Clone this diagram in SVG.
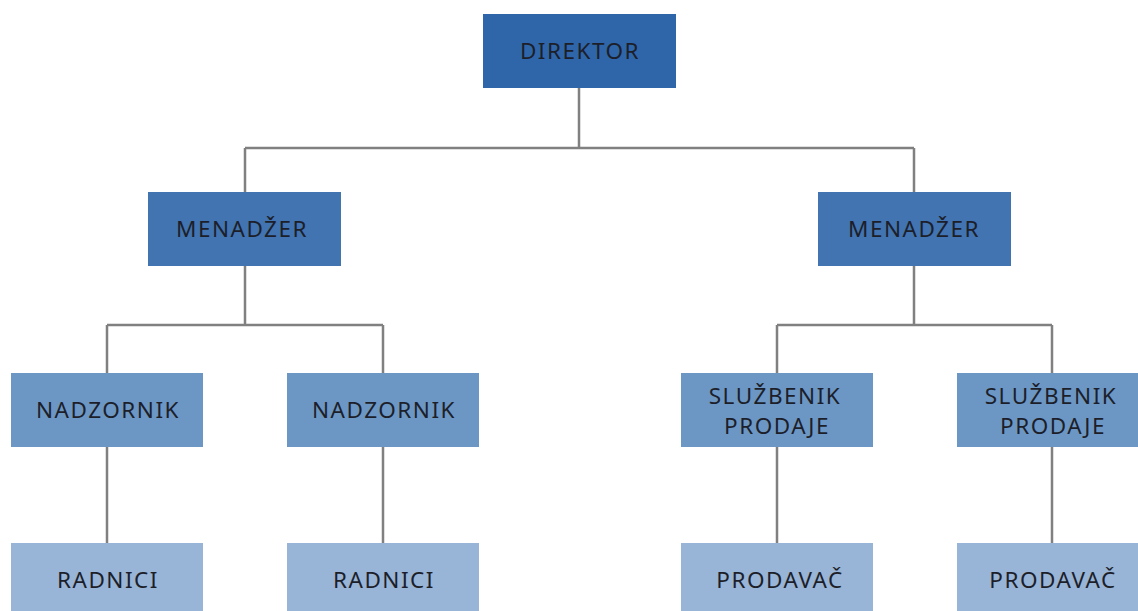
<svg xmlns="http://www.w3.org/2000/svg" width="1138" height="611" viewBox="0 0 1138 611">
<style>
.t{font-family:"Noto Sans","Open Sans",sans-serif;font-size:22.5px;fill:#1c1f2a;text-anchor:middle;letter-spacing:1.5px}
.l0{fill:#2f66a9}
.l1{fill:#4174b1}
.l2{fill:#6c97c5}
.l3{fill:#98b4d6}
.c{stroke:#808080;stroke-width:2.5;fill:none}
</style>
<rect width="1138" height="611" fill="#ffffff"/>
<g id="connectors">
<path class="c" d="M579 88V148M245 148H914M245 148V192M914 148V192"/>
<path class="c" d="M245 266V325M107 325H383M107 325V373M383 325V373"/>
<path class="c" d="M914 266V325M777 325H1052M777 325V373M1052 325V373"/>
<path class="c" d="M107 447V543M383 447V543M777 447V543M1052 447V543"/>
</g>
<g id="direktor"><rect class="l0" x="483" y="14" width="193" height="74"/><text class="t" x="580" y="59">DIREKTOR</text></g>
<g id="menadzer1"><rect class="l1" x="148" y="192" width="193" height="74"/><text class="t" x="242" y="237">MENADŽER</text></g>
<g id="menadzer2"><rect class="l1" x="818" y="192" width="193" height="74"/><text class="t" x="914" y="237">MENADŽER</text></g>
<g id="nadzornik1"><rect class="l2" x="11" y="373" width="192" height="74"/><text class="t" x="108" y="418">NADZORNIK</text></g>
<g id="nadzornik2"><rect class="l2" x="287" y="373" width="192" height="74"/><text class="t" x="384" y="418">NADZORNIK</text></g>
<g id="sluzbenik1"><rect class="l2" x="681" y="373" width="192" height="74"/><text class="t" x="775" y="404">SLUŽBENIK</text><text class="t" x="777" y="434">PRODAJE</text></g>
<g id="sluzbenik2"><rect class="l2" x="957" y="373" width="192" height="74"/><text class="t" x="1051" y="404">SLUŽBENIK</text><text class="t" x="1053" y="434">PRODAJE</text></g>
<g id="radnici1"><rect class="l3" x="11" y="543" width="192" height="74"/><text class="t" x="108" y="588">RADNICI</text></g>
<g id="radnici2"><rect class="l3" x="287" y="543" width="192" height="74"/><text class="t" x="384" y="588">RADNICI</text></g>
<g id="prodavac1"><rect class="l3" x="681" y="543" width="192" height="74"/><text class="t" x="780" y="588">PRODAVAČ</text></g>
<g id="prodavac2"><rect class="l3" x="957" y="543" width="192" height="74"/><text class="t" x="1053" y="588">PRODAVAČ</text></g>
</svg>
